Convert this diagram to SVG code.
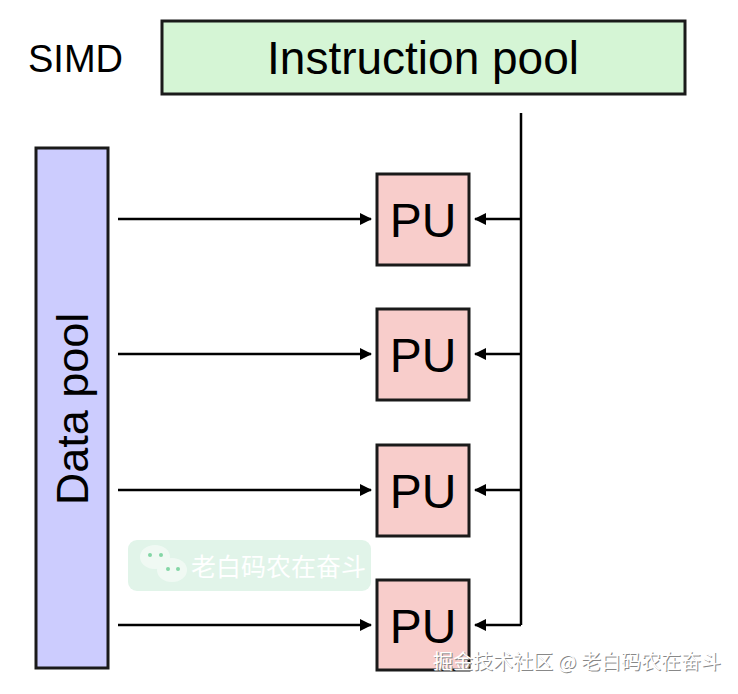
<svg xmlns="http://www.w3.org/2000/svg" width="738" height="694" viewBox="0 0 738 694">
<style>
.box{stroke:#1a1a1a;stroke-width:3}
.pu{fill:#f8cdcb}
.t{font-family:"Liberation Sans",Arial,sans-serif;fill:#000}
.c{stroke:#000;stroke-width:2.5;fill:none}
</style>
<defs><marker id="a" markerWidth="12" markerHeight="12" refX="11" refY="6" orient="auto" markerUnits="userSpaceOnUse"><path d="M0,0 L12,6 L0,12 Z" fill="#000"/></marker></defs>
<rect width="738" height="694" fill="#fff"/>
<text class="t" x="28" y="72" font-size="38">SIMD</text>
<g id="instr"><rect class="box" x="162" y="21" width="523" height="73" fill="#d5f5d5"/><text class="t" x="423" y="74" font-size="46" text-anchor="middle">Instruction pool</text></g>
<g id="data"><rect class="box" x="36" y="148" width="72" height="520" fill="#ccccfe"/><text class="t" transform="translate(88,409) rotate(-90)" font-size="45" text-anchor="middle">Data pool</text></g>
<g id="pu1"><rect class="box pu" x="377" y="174" width="92" height="91"/><text class="t" x="423" y="237" font-size="48" text-anchor="middle">PU</text></g>
<g id="pu2"><rect class="box pu" x="377" y="309" width="92" height="91"/><text class="t" x="423" y="372" font-size="48" text-anchor="middle">PU</text></g>
<g id="pu3"><rect class="box pu" x="377" y="445" width="92" height="91"/><text class="t" x="423" y="508" font-size="48" text-anchor="middle">PU</text></g>
<g id="pu4"><rect class="box pu" x="377" y="580" width="92" height="90"/><text class="t" x="423" y="643" font-size="48" text-anchor="middle">PU</text></g>
<g id="connectors">
<path class="c" d="M118,219H371" marker-end="url(#a)"/>
<path class="c" d="M118,354H371" marker-end="url(#a)"/>
<path class="c" d="M118,490H371" marker-end="url(#a)"/>
<path class="c" d="M118,625H371" marker-end="url(#a)"/>
<path class="c" d="M521,113V625"/>
<path class="c" d="M521,219H475" marker-end="url(#a)"/>
<path class="c" d="M521,354H475" marker-end="url(#a)"/>
<path class="c" d="M521,490H475" marker-end="url(#a)"/>
<path class="c" d="M521,625H475" marker-end="url(#a)"/>
</g>
<g opacity="0.85">
<rect x="128" y="540" width="243" height="51" rx="9" fill="#dcf3e6"/>
<ellipse cx="155" cy="557" rx="15" ry="12" fill="#eef9f2"/>
<ellipse cx="172" cy="570" rx="15" ry="12" fill="#eef9f2"/>
<circle cx="150" cy="555" r="2" fill="#6fcf97"/><circle cx="161" cy="555" r="2" fill="#6fcf97"/>
<circle cx="168" cy="569" r="2" fill="#6fcf97"/><circle cx="178" cy="569" r="2" fill="#6fcf97"/>
<text x="191" y="576" font-size="25" fill="#fff" font-family="'Noto Sans CJK SC',sans-serif">老白码农在奋斗</text>
</g>
<text x="434" y="670" font-size="20" fill="#888" font-family="'Noto Sans CJK SC',sans-serif">掘金技术社区 @ 老白码农在奋斗</text>
<text x="433" y="669" font-size="20" fill="#fff" font-family="'Noto Sans CJK SC',sans-serif">掘金技术社区 @ 老白码农在奋斗</text>
</svg>
